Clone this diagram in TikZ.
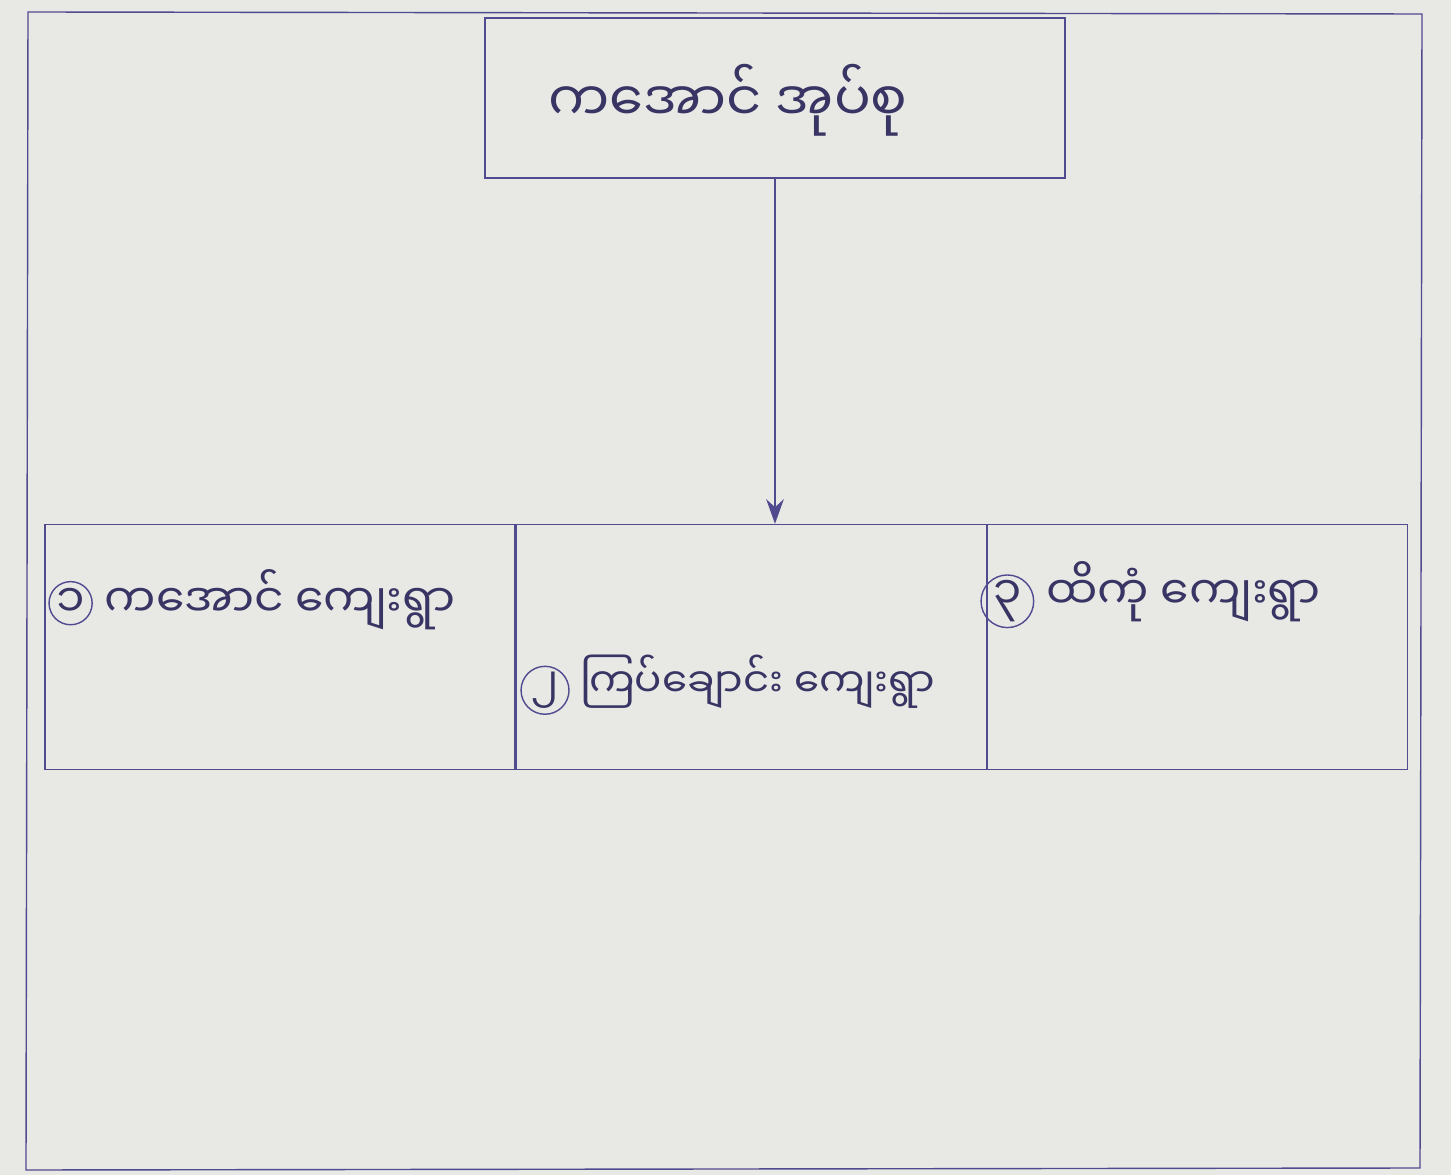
\documentclass[tikz,border=0pt]{standalone}
\usepackage{fontspec}
\newfontfamily\mmfont[Script=Myanmar]{Noto Sans Myanmar UI}
\usetikzlibrary{positioning,arrows.meta}
\definecolor{ink}{RGB}{80,74,142}
\definecolor{paper}{RGB}{232,233,229}
\newcommand{\numc}[1]{\tikz[baseline=(n.base)]\node[draw=ink,thick,circle,inner sep=0.5pt](n){#1};}
\tikzset{
  box/.style={draw=ink, thick, inner sep=0pt},
  lbl/.style={font=\mmfont\fontsize{26}{31}\selectfont, text=ink!70!black, inner sep=0pt}
}
\begin{document}
\begin{tikzpicture}[x=0.02cm, y=-0.02cm]
        \useasboundingbox[fill=paper] (0,0) rectangle (1451,1175);
        \draw[ink, thick] (28,12) -- (1422,14) -- (1420,1168) -- (26,1170) -- cycle;

        \node[box, minimum width=11.6cm, minimum height=3.2cm] (top) at (775,98) {};
        \node[box, minimum width=9.4cm, minimum height=4.9cm] (b1) at (280,647) {};
        \node[box, minimum width=9.4cm, minimum height=4.9cm, right=0pt of b1] (b2) {};
        \node[box, minimum width=8.4cm, minimum height=4.9cm, right=0pt of b2] (b3) {};

        \draw[ink, thick, -{Stealth[length=14pt, width=10pt]}] (top.south) -- (top.south |- b2.north);

        \node[lbl, font=\mmfont\fontsize{31}{36}\selectfont] (t0) at (728,100) {ကအောင် အုပ်စု};
        \node[lbl, anchor=west] (t1) at (48,600) {\numc{၁} ကအောင် ကျေးရွာ};
        \node[lbl, anchor=west, font=\mmfont\fontsize{23}{28}\selectfont] (t2) at (520,685) {\numc{၂} ကြပ်ချောင်း ကျေးရွာ};
        \node[lbl, anchor=west] (t3) at (980,595) {\numc{၃} ထိကုံ ကျေးရွာ};
    \end{tikzpicture}
\end{document}
